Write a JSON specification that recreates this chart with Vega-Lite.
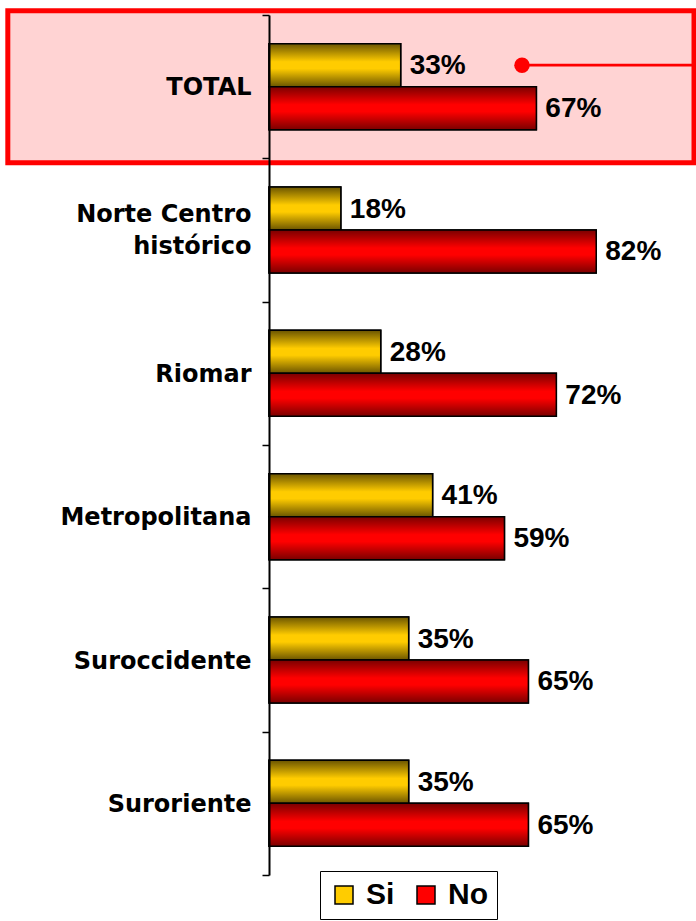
{
  "$schema": "https://vega.github.io/schema/vega-lite/v6.json",
  "width": 427,
  "height": 860,
  "autosize": "none",
  "padding": {"left": 269, "top": 15, "right": 0, "bottom": 46},
  "background": "white",
  "datasets": {
    "bars": [
      {"category": "TOTAL", "series": "Si", "value": 0.33},
      {"category": "TOTAL", "series": "No", "value": 0.67},
      {"category": "Norte Centro histórico", "series": "Si", "value": 0.18},
      {"category": "Norte Centro histórico", "series": "No", "value": 0.82},
      {"category": "Riomar", "series": "Si", "value": 0.28},
      {"category": "Riomar", "series": "No", "value": 0.72},
      {"category": "Metropolitana", "series": "Si", "value": 0.41},
      {"category": "Metropolitana", "series": "No", "value": 0.59},
      {"category": "Suroccidente", "series": "Si", "value": 0.35},
      {"category": "Suroccidente", "series": "No", "value": 0.65},
      {"category": "Suroriente", "series": "Si", "value": 0.35},
      {"category": "Suroriente", "series": "No", "value": 0.65}
    ],
    "box": [{"category": "TOTAL", "x0": -0.6545, "x1": 1.065}],
    "pointer": [{"category": "TOTAL", "series": "Si", "x0": 0.634, "x1": 1.1}]
  },
  "config": {
    "view": {"stroke": null},
    "legend": {"labelFontWeight": "bold", "labelFont": "Liberation Sans"}
  },
  "encoding": {
    "y": {
      "field": "category",
      "type": "nominal",
      "sort": ["TOTAL", "Norte Centro histórico", "Riomar", "Metropolitana", "Suroccidente", "Suroriente"],
      "scale": {"padding": 0},
      "axis": {
        "title": null,
        "domainColor": "black",
        "domainWidth": 2,
        "tickColor": "black",
        "tickWidth": 1.5,
        "tickSize": 7,
        "tickBand": "extent",
        "labelFont": "DejaVu Sans",
        "labelFontWeight": "bold",
        "labelFontSize": 24,
        "labelColor": "black",
        "labelPadding": 11,
        "labelLineHeight": 32,
        "labelLimit": 300,
        "labelOffset": {"condition": {"test": "datum.value == 'Norte Centro histórico'", "value": -16}, "value": 1},
        "labelExpr": "datum.value == 'Norte Centro histórico' ? ['Norte Centro', 'histórico'] : datum.value",
        "zindex": 1
      }
    }
  },
  "layer": [
    {
      "data": {"name": "box"},
      "mark": {"type": "bar", "height": {"band": 1.06}, "fill": "#FFD3D3", "stroke": "#FF0000", "strokeWidth": 5},
      "encoding": {
        "x": {"field": "x0", "type": "quantitative", "scale": {"domain": [0, 1.07], "nice": false, "zero": false}, "axis": null},
        "x2": {"field": "x1"}
      }
    },
    {
      "data": {"name": "bars"},
      "mark": {"type": "bar", "stroke": "black", "strokeWidth": 1.5},
      "encoding": {
        "x": {"field": "value", "type": "quantitative", "axis": null},
        "yOffset": {"field": "series", "type": "nominal", "scale": {"domain": ["Si", "No"], "paddingInner": 0, "paddingOuter": 0.667}},
        "color": {
          "field": "series",
          "type": "nominal",
          "scale": {"domain": ["Si", "No"], "range": ["#FFCC00", "#FF0000"]},
          "legend": {
            "orient": "none",
            "legendX": 51,
            "legendY": 856,
            "direction": "horizontal",
            "title": null,
            "symbolType": "square",
            "symbolSize": 324,
            "symbolStrokeColor": "black",
            "symbolStrokeWidth": 1.5,
            "symbolOpacity": 1,
            "labelFont": "Liberation Sans",
            "labelFontWeight": 700,
            "labelFontSize": 30,
            "labelColor": "black",
            "labelOffset": 7,
            "columnPadding": 16,
            "padding": 9,
            "strokeColor": "black",
            "fillColor": "white"
          }
        }
      }
    },
    {
      "data": {"name": "bars"},
      "transform": [{"filter": "datum.series == 'Si'"}],
      "mark": {
        "type": "bar",
        "stroke": "black",
        "strokeWidth": 1.5,
        "fill": {"gradient": "linear", "x1": 0, "y1": 0, "x2": 0, "y2": 1,
          "stops": [{"offset": 0, "color": "#6B5500"}, {"offset": 0.42, "color": "#FFCC00"}, {"offset": 0.58, "color": "#FFCC00"}, {"offset": 1, "color": "#6B5500"}]}
      },
      "encoding": {
        "x": {"field": "value", "type": "quantitative", "axis": null},
        "yOffset": {"field": "series", "type": "nominal"}
      }
    },
    {
      "data": {"name": "bars"},
      "transform": [{"filter": "datum.series == 'No'"}],
      "mark": {
        "type": "bar",
        "stroke": "black",
        "strokeWidth": 1.5,
        "fill": {"gradient": "linear", "x1": 0, "y1": 0, "x2": 0, "y2": 1,
          "stops": [{"offset": 0, "color": "#7A0000"}, {"offset": 0.42, "color": "#FF0000"}, {"offset": 0.58, "color": "#FF0000"}, {"offset": 1, "color": "#7A0000"}]}
      },
      "encoding": {
        "x": {"field": "value", "type": "quantitative", "axis": null},
        "yOffset": {"field": "series", "type": "nominal"}
      }
    },
    {
      "data": {"name": "bars"},
      "mark": {"type": "text", "align": "left", "baseline": "middle", "dx": 9, "dy": 1, "font": "Liberation Sans", "fontWeight": "bold", "fontSize": 28, "color": "black"},
      "encoding": {
        "x": {"field": "value", "type": "quantitative", "axis": null},
        "yOffset": {"field": "series", "type": "nominal"},
        "text": {"field": "value", "type": "quantitative", "format": ".0%"}
      }
    },
    {
      "data": {"name": "pointer"},
      "mark": {"type": "rule", "color": "#FF0000", "strokeWidth": 2.7},
      "encoding": {
        "x": {"field": "x0", "type": "quantitative", "axis": null},
        "x2": {"field": "x1"},
        "yOffset": {"field": "series", "type": "nominal"}
      }
    },
    {
      "data": {"name": "pointer"},
      "mark": {"type": "point", "shape": "circle", "filled": true, "color": "#FF0000", "opacity": 1, "size": 240},
      "encoding": {
        "x": {"field": "x0", "type": "quantitative", "axis": null},
        "yOffset": {"field": "series", "type": "nominal"}
      }
    }
  ]
}
